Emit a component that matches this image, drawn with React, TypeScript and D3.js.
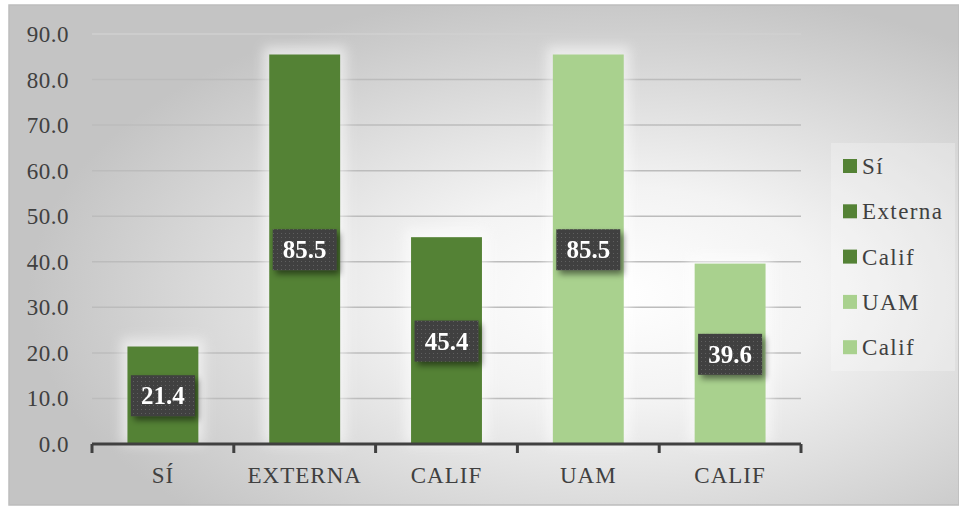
import React from "react";
import * as d3 from "d3";

const categories = ["SÍ", "EXTERNA", "CALIF", "UAM", "CALIF"];
const values = [21.4, 85.5, 45.4, 85.5, 39.6];
const legendLabels = ["Sí", "Externa", "Calif", "UAM", "Calif"];
const barColors = ["#548235", "#548235", "#548235", "#A9D18E", "#A9D18E"];
const yTicks = [0, 10, 20, 30, 40, 50, 60, 70, 80, 90];

const W = 959;
const H = 506;
const plot = { left: 92, right: 801, top: 34, bottom: 444 };
const FONT = "'Liberation Serif', 'Times New Roman', serif";

export default function App() {
  const x = d3
    .scaleBand<number>()
    .domain(d3.range(categories.length))
    .range([plot.left, plot.right])
    .paddingInner(0)
    .paddingOuter(0);
  const y = d3.scaleLinear().domain([0, 90]).range([plot.bottom, plot.top]);
  const bw = x.bandwidth() * 0.5;
  const boundaries = d3.range(categories.length + 1).map((i) => plot.left + i * x.bandwidth());

  return (
    <svg width={W} height={H} style={{ position: "absolute", left: 0, top: 0 }}>
      <defs>
        <radialGradient id="bg" cx="0.64" cy="0.58" r="0.62" fx="0.64" fy="0.58">
          <stop offset="0" stopColor="#ffffff" />
          <stop offset="0.35" stopColor="#f3f3f3" />
          <stop offset="1" stopColor="#c4c4c4" />
        </radialGradient>
        <pattern id="dots" width="4" height="4" patternUnits="userSpaceOnUse">
          <rect width="4" height="4" fill="#3f3f3f" />
          <rect x="1" y="1" width="1" height="1" fill="#5e5e5e" />
        </pattern>
        <filter id="glow" x="-30%" y="-30%" width="160%" height="160%">
          <feGaussianBlur stdDeviation="6" />
        </filter>
        <filter id="shadow" x="-30%" y="-30%" width="160%" height="160%">
          <feGaussianBlur in="SourceAlpha" stdDeviation="3" />
          <feOffset dx="3" dy="4" result="b" />
          <feComponentTransfer>
            <feFuncA type="linear" slope="0.5" />
          </feComponentTransfer>
          <feMerge>
            <feMergeNode />
            <feMergeNode in="SourceGraphic" />
          </feMerge>
        </filter>
      </defs>
      <rect x={9} y={5} width={W - 9} height={500} fill="url(#bg)" stroke="#bdbdbd" strokeWidth={1.5} />

      {/* gridlines */}
      {yTicks.map((t) => (
        <line
          key={t}
          x1={plot.left}
          x2={plot.right}
          y1={y(t)}
          y2={y(t)}
          stroke={t === 90 ? "#d0d0d0" : "#bcbcbc"}
          strokeWidth={1.5}
        />
      ))}

      {/* bar glows */}
      {values.map((v, i) => (
        <rect
          key={"g" + i}
          x={(x(i) as number) + x.bandwidth() / 2 - bw / 2 - 6}
          y={y(v) - 8}
          width={bw + 12}
          height={plot.bottom - y(v) + 8}
          fill="#ffffff"
          opacity={0.55}
          filter="url(#glow)"
        />
      ))}

      {/* bars */}
      {values.map((v, i) => (
        <rect
          key={"b" + i}
          x={(x(i) as number) + x.bandwidth() / 2 - bw / 2}
          y={y(v)}
          width={bw}
          height={plot.bottom - y(v)}
          fill={barColors[i]}
        />
      ))}

      {/* y tick labels */}
      {yTicks.map((t) => (
        <text
          key={"yl" + t}
          x={69}
          y={y(t) + 8}
          textAnchor="end"
          fontFamily={FONT}
          fontSize={23}
          letterSpacing={0.5}
          fill="#404040"
        >
          {d3.format(".1f")(t)}
        </text>
      ))}

      {/* x axis */}
      <line x1={plot.left} x2={plot.right} y1={plot.bottom} y2={plot.bottom} stroke="#404040" strokeWidth={3} />
      {boundaries.map((bx, i) => (
        <line key={"tk" + i} x1={bx} x2={bx} y1={plot.bottom} y2={plot.bottom + 9} stroke="#404040" strokeWidth={3} />
      ))}
      {categories.map((c, i) => (
        <text
          key={"xl" + i}
          x={(x(i) as number) + x.bandwidth() / 2}
          y={483}
          textAnchor="middle"
          fontFamily={FONT}
          fontSize={23}
          letterSpacing={1}
          fill="#404040"
        >
          {c}
        </text>
      ))}

      {/* data labels */}
      {values.map((v, i) => {
        const cx = (x(i) as number) + x.bandwidth() / 2;
        const cy = (y(v) + plot.bottom) / 2;
        return (
          <g key={"dl" + i} filter="url(#shadow)">
            <rect x={cx - 32} y={cy - 20} width={64} height={41} fill="url(#dots)" />
            <text
              x={cx}
              y={cy + 9}
              textAnchor="middle"
              fontFamily={FONT}
              fontWeight="bold"
              fontSize={25}
              fill="#ffffff"
            >
              {d3.format(".1f")(v)}
            </text>
          </g>
        );
      })}

      {/* legend */}
      <rect x={831} y={143} width={124} height={228} fill="#ffffff" opacity={0.25} />
      {legendLabels.map((l, i) => {
        const cy = 166 + i * 45.3;
        return (
          <g key={"lg" + i}>
            <rect x={843} y={cy - 7} width={14} height={14} fill={barColors[i]} />
            <text x={862} y={cy + 8} fontFamily={FONT} fontSize={23} letterSpacing={1.4} fill="#404040">
              {l}
            </text>
          </g>
        );
      })}
    </svg>
  );
}
